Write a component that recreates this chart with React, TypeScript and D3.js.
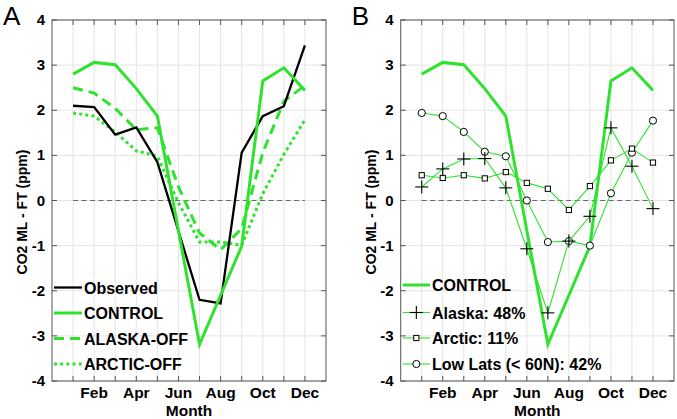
import React from "react";
import * as d3 from "d3";

const months = ["Jan", "Feb", "Mar", "Apr", "May", "Jun", "Jul", "Aug", "Sep", "Oct", "Nov", "Dec"];
const monthTickLabels = ["Feb", "Apr", "Jun", "Aug", "Oct", "Dec"];
const yTicks = [-4, -3, -2, -1, 0, 1, 2, 3, 4];

const observed = [2.1, 2.07, 1.46, 1.62, 0.85, -0.68, -2.2, -2.28, 1.06, 1.87, 2.09, 3.44];
const control = [2.8, 3.06, 3.01, 2.48, 1.87, -0.67, -3.19, -2.1, -1.01, 2.65, 2.94, 2.44];
const alaskaOff = [2.5, 2.38, 2.04, 1.57, 1.61, 0.3, -0.72, -1.09, -0.62, 1.06, 2.2, 2.55];
const arcticOff = [1.94, 1.87, 1.52, 1.1, 0.98, -0.05, -0.92, -0.92, -0.99, 0.15, 1.02, 1.79];

const alaska = [0.3, 0.7, 0.92, 0.93, 0.28, -1.07, -2.49, -0.9, -0.35, 1.61, 0.76, -0.18];
const arctic = [0.56, 0.5, 0.56, 0.49, 0.63, 0.39, 0.26, -0.21, 0.32, 0.89, 1.15, 0.84];
const lowLats = [1.94, 1.87, 1.52, 1.08, 0.98, 0.0, -0.92, -0.9, -1.0, 0.16, 1.06, 1.77];

const legendA = ["Observed", "CONTROL", "ALASKA-OFF", "ARCTIC-OFF"];
const legendB = ["CONTROL", "Alaska: 48%", "Arctic: 11%", "Low Lats (< 60N): 42%"];

const GREEN = "#2ee22e";
const FONT = "'Liberation Sans', Arial, Helvetica, sans-serif";
const TOP = 20;
const BOTTOM = 381;

type Series = { values: number[]; color: string; width: number; dash?: string; marker?: string };

function Marker({ kind, x, y }: { kind: string; x: number; y: number }) {
  if (kind === "plus")
    return (
      <g stroke="#000" strokeWidth={1.1}>
        <line x1={x - 6.5} x2={x + 6.5} y1={y} y2={y} />
        <line x1={x} x2={x} y1={y - 6.5} y2={y + 6.5} />
      </g>
    );
  if (kind === "square")
    return <rect x={x - 2.6} y={y - 2.6} width={5.2} height={5.2} fill="#fff" stroke="#000" strokeWidth={1} />;
  return <circle cx={x} cy={y} r={3.6} fill="#fff" stroke="#000" strokeWidth={1} />;
}

function Panel({ left, right, letter, series, legend, legendSeries, legendX, legendRows }: any) {
  const x = d3.scaleLinear().domain([0, 13]).range([left, right]);
  const y = d3.scaleLinear().domain([-4, 4]).range([BOTTOM, TOP]);
  const line = d3
    .line<number>()
    .x((_, i) => x(i + 1))
    .y((d) => y(d));
  const mid = (left + right) / 2;
  return (
    <g fontFamily={FONT}>
      {months.map((m, i) => (
        <line key={"gx" + m} x1={x(i + 1)} x2={x(i + 1)} y1={TOP} y2={BOTTOM} stroke="#e4e4e4" strokeWidth={1} />
      ))}
      {yTicks.map((t) => (
        <line key={"gy" + t} x1={left} x2={right} y1={y(t)} y2={y(t)} stroke="#e4e4e4" strokeWidth={1} />
      ))}
      <line x1={x(1)} x2={x(12)} y1={y(0)} y2={y(0)} stroke="#6a6a6a" strokeWidth={1.1} strokeDasharray="5,3.5" />
      {series.map((s: Series, k: number) => (
        <g key={"s" + k}>
          <path
            d={line(s.values) || ""}
            fill="none"
            stroke={s.color}
            strokeWidth={s.width}
            strokeDasharray={s.dash}
            strokeLinejoin="miter"
          />
          {s.marker && s.values.map((v, i) => <Marker key={i} kind={s.marker as string} x={x(i + 1)} y={y(v)} />)}
        </g>
      ))}
      <rect x={left} y={TOP} width={right - left} height={BOTTOM - TOP} fill="none" stroke="#555" strokeWidth={1} />
      {months.map((m, i) => (
        <g key={"t" + m} stroke="#555" strokeWidth={1}>
          <line x1={x(i + 1)} x2={x(i + 1)} y1={BOTTOM} y2={BOTTOM - 5} />
          <line x1={x(i + 1)} x2={x(i + 1)} y1={TOP} y2={TOP + 5} />
        </g>
      ))}
      {yTicks.map((t) => (
        <g key={"ty" + t} stroke="#555" strokeWidth={1}>
          <line x1={left} x2={left + 5} y1={y(t)} y2={y(t)} />
          <line x1={right} x2={right - 5} y1={y(t)} y2={y(t)} />
        </g>
      ))}
      {yTicks.map((t) => (
        <text key={"yl" + t} x={left - 7} y={y(t) + 5} textAnchor="end" fontSize={15} fontWeight="bold" fill="#000">
          {String(t)}
        </text>
      ))}
      {monthTickLabels.map((m) => (
        <text key={"xl" + m} x={x(months.indexOf(m) + 1)} y={398} textAnchor="middle" fontSize={15.5} fontWeight="bold" fill="#000">
          {m}
        </text>
      ))}
      <text x={mid} y={415.5} textAnchor="middle" fontSize={15.5} fontWeight="bold" fill="#000">
        Month
      </text>
      <text
        transform={`translate(${left - 25},${212}) rotate(-90)`}
        textAnchor="middle"
        fontSize={14}
        fontWeight="bold"
        fill="#000"
      >
        CO2 ML - FT (ppm)
      </text>
      <text x={left - 49} y={25} fontSize={26} fill="#000">
        {letter}
      </text>
      {legend.map((label: string, k: number) => {
        const s: Series = legendSeries[k];
        const ly = legendRows[k];
        return (
          <g key={"lg" + k}>
            <line
              x1={left + 2}
              x2={legendX - 2}
              y1={ly}
              y2={ly}
              stroke={s.color}
              strokeWidth={s.width}
              strokeDasharray={s.dash}
            />
            {s.marker && <Marker kind={s.marker} x={(left + legendX) / 2} y={ly} />}
            <text x={legendX} y={ly + 6} fontSize={16} fontWeight="bold" fill="#000">
              {label}
            </text>
          </g>
        );
      })}
    </g>
  );
}

export default function App() {
  const seriesA: Series[] = [
    { values: arcticOff, color: GREEN, width: 3, dash: "3,3.2" },
    { values: alaskaOff, color: GREEN, width: 3, dash: "10,6" },
    { values: observed, color: "#000", width: 2.3 },
    { values: control, color: GREEN, width: 3 },
  ];
  const legendSeriesA: Series[] = [seriesA[2], seriesA[3], seriesA[1], seriesA[0]];
  const controlB: Series = { values: control, color: GREEN, width: 3 };
  const lowB: Series = { values: lowLats, color: GREEN, width: 1.1, marker: "circle" };
  const arcB: Series = { values: arctic, color: GREEN, width: 1.1, marker: "square" };
  const alaB: Series = { values: alaska, color: GREEN, width: 1.1, marker: "plus" };
  const seriesB: Series[] = [controlB, lowB, arcB, alaB];
  const legendSeriesB: Series[] = [controlB, alaB, arcB, lowB];
  return (
    <svg width={677} height={419} style={{ position: "absolute", left: 0, top: 0, background: "#fff" }}>
      <rect x={0} y={0} width={677} height={419} fill="#fff" />
      <Panel
        left={52}
        right={326}
        letter="A"
        series={seriesA}
        legend={legendA}
        legendSeries={legendSeriesA}
        legendX={84}
        legendRows={[287.5, 313, 338.5, 364]}
      />
      <Panel
        left={400.7}
        right={674}
        letter="B"
        series={seriesB}
        legend={legendB}
        legendSeries={legendSeriesB}
        legendX={432}
        legendRows={[285, 312.5, 338, 364]}
      />
    </svg>
  );
}
